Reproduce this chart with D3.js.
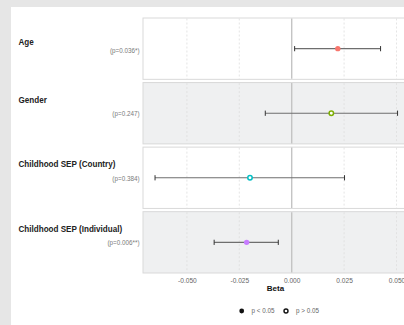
<!DOCTYPE html>
<html>
<head>
<meta charset="utf-8">
<script src="https://cdn.jsdelivr.net/npm/d3@7"></script>
<style>
body { margin:0; background:#e6e6e6; font-family:"Liberation Sans", Arial, sans-serif; }
#chart { width:404px; height:325px; }
</style>
</head>
<body>
<div id="chart"></div>
<script>
var labels = ["Age", "Gender", "Childhood SEP (Country)", "Childhood SEP (Individual)"];
var pTexts = ["(p=0.036*)", "(p=0.247)", "(p=0.384)", "(p=0.006**)"];
var pValues = [0.036, 0.247, 0.384, 0.006];
var betas = [0.022, 0.0189, -0.0199, -0.0215];
var lows = [0.0014, -0.0126, -0.0652, -0.037];
var highs = [0.0424, 0.0505, 0.0252, -0.0064];
var colors = ["#F8766D", "#7CAE00", "#00BFC4", "#C77CFF"];
var ticks = [-0.05, -0.025, 0, 0.025, 0.05];

var fp = {
	padding: {l:143, t:18, r:-4, b:52},
	w:404,
	h:325,
	labelDy: [-6.5, -13, -14, -13.5],
	pDy: [2.5, 1, 1.5, 0.5],
	svg:null
}

fp.svg = d3.select('#chart').append('svg')
			.attr('width', fp.w)
			.attr('height', fp.h);

// white card
fp.svg.append('rect')
		.attr('x', 11).attr('y', 7)
		.attr('width', fp.w).attr('height', fp.h)
		.attr('fill', 'white');

var x_scale = d3.scaleLinear()
					.domain([0, 0.05])
					.range([291.7, 396.5]);

var band = d3.scaleBand()
				.domain(d3.range(labels.length))
				.range([fp.padding.t, fp.h - fp.padding.b])
				.paddingInner(0.05);

var panels = fp.svg.append('g').attr('class', 'panels')
				.selectAll('g')
				.data(labels)
				.enter()
				.append('g')
					.attr('transform', (d,i)=>'translate(0,'+band(i)+')');

var pw = fp.w - fp.padding.r - fp.padding.l;
panels.append('rect')
		.attr('x', fp.padding.l)
		.attr('y', 0)
		.attr('width', pw)
		.attr('height', band.bandwidth())
		.attr('fill', (d,i)=> i%2 ? '#eff0f1' : 'white')
		.attr('stroke', '#d9d9d9')
		.attr('stroke-width', 1);

panels.selectAll('line.grid')
		.data(ticks.filter(t=>t!==0))
		.enter()
		.append('line')
			.attr('class', 'grid')
			.attr('x1', d=>x_scale(d)).attr('x2', d=>x_scale(d))
			.attr('y1', 0.5).attr('y2', band.bandwidth()-0.5)
			.attr('stroke', '#dedede')
			.attr('stroke-dasharray', '2,2')
			.attr('stroke-width', 0.8);

panels.append('line')
		.attr('x1', x_scale(0)).attr('x2', x_scale(0))
		.attr('y1', 0.5).attr('y2', band.bandwidth()-0.5)
		.attr('stroke', '#c4c4c4')
		.attr('stroke-width', 1.4);

var mid = band.bandwidth()/2;

// error bars
panels.append('line')
		.attr('x1', (d,i)=>x_scale(lows[i]))
		.attr('x2', (d,i)=>x_scale(highs[i]))
		.attr('y1', mid).attr('y2', mid)
		.attr('stroke', '#6e6e6e')
		.attr('stroke-width', 1.1);
panels.each(function(d,i) {
	var g = d3.select(this);
	[lows[i], highs[i]].forEach(function(v) {
		g.append('line')
			.attr('x1', x_scale(v)).attr('x2', x_scale(v))
			.attr('y1', mid-2.6).attr('y2', mid+2.6)
			.attr('stroke', '#333')
			.attr('stroke-width', 1);
	});
});

panels.append('circle')
		.attr('cx', (d,i)=>x_scale(betas[i]))
		.attr('cy', mid)
		.attr('r', (d,i)=> pValues[i] < 0.05 ? 2.7 : 2.2)
		.attr('fill', (d,i)=> pValues[i] < 0.05 ? colors[i] : 'white')
		.attr('stroke', (d,i)=>colors[i])
		.attr('stroke-width', (d,i)=> pValues[i] < 0.05 ? 0 : 1.5);

// row labels
panels.append('text')
		.attr('transform', (d,i)=>'translate(18.5,'+(mid+fp.labelDy[i])+') scale(0.88,1)')
		.attr('dy', '0.35em')
		.attr('font-size', '9.2px')
		.attr('font-weight', 'bold')
		.attr('fill', '#222')
		.text(d=>d);
panels.append('text')
		.attr('x', 139.5)
		.attr('y', (d,i)=>mid+fp.pDy[i])
		.attr('dy', '0.35em')
		.attr('text-anchor', 'end')
		.attr('font-size', '6.3px')
		.attr('fill', '#7a7a7a')
		.text((d,i)=>pTexts[i]);

// x axis
var x_axis = d3.axisBottom(x_scale).tickValues(ticks).tickFormat(d3.format('.3f')).tickSize(0).tickPadding(5);
fp.svg.append('g')
		.attr('class', 'axis x')
		.attr('transform', 'translate(0,'+(fp.h-fp.padding.b)+')')
		.call(x_axis)
		.call(g => g.select(".domain").remove())
		.call(g => g.selectAll('text').attr('font-size', '6.6px').attr('fill', '#666').attr('font-family', '"Liberation Sans", Arial, sans-serif').text(d=>d3.format('.3f')(d).replace('−', '-')));

fp.svg.append('text')
		.attr('x', fp.padding.l + pw/2)
		.attr('y', 288.5)
		.attr('dy', '0.35em')
		.attr('text-anchor', 'middle')
		.attr('font-size', '8px')
		.attr('font-weight', 'bold')
		.attr('fill', '#111')
		.text('Beta');

// legend
var legend = fp.svg.append('g').attr('class', 'legend');
legend.append('circle').attr('cx', 241.7).attr('cy', 311).attr('r', 2.4).attr('fill', '#111');
legend.append('text').attr('x', 251.5).attr('y', 311).attr('dy', '0.35em')
		.attr('font-size', '6.3px').attr('fill', '#666').text('p < 0.05');
legend.append('circle').attr('cx', 286).attr('cy', 311).attr('r', 2).attr('fill', 'white')
		.attr('stroke', '#111').attr('stroke-width', 1.4);
legend.append('text').attr('x', 296).attr('y', 311).attr('dy', '0.35em')
		.attr('font-size', '6.3px').attr('fill', '#666').text('p > 0.05');
</script>
</body>
</html>
